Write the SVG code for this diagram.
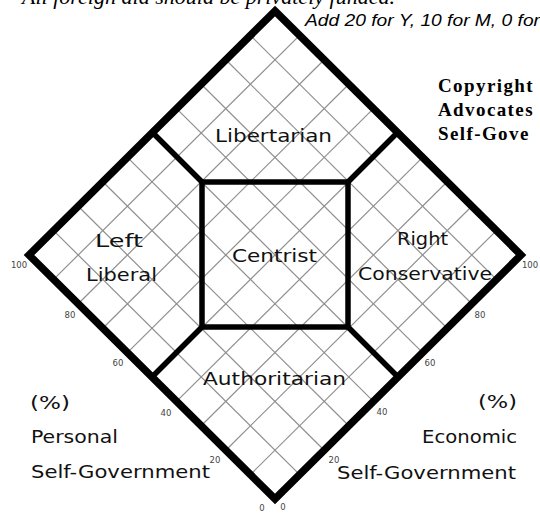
<svg xmlns="http://www.w3.org/2000/svg" width="540" height="519" viewBox="0 0 540 519">
  <style>
    .grid line { stroke: #8f8f8f; stroke-width: 1.2; }
    .frame { fill: none; stroke: #000; stroke-width: 7.5; stroke-linejoin: miter; }
    .inner { fill: none; stroke: #000; stroke-width: 5.5; stroke-linejoin: miter; }
    .lbl { font-family: "DejaVu Sans", "Open Sans", sans-serif; font-size: 18.5px; fill: #111; }
    .num { font-family: "DejaVu Sans", sans-serif; font-size: 8.5px; fill: #444; text-anchor: middle; }
    .copy { font-family: "Liberation Serif", "Times New Roman", serif; font-weight: bold; font-size: 19px; letter-spacing: 1.4px; fill: #000; }
  </style>
  <rect width="540" height="519" fill="#fff"/>

  <g id="header">
    <text x="22" y="4" font-family="Liberation Serif, serif" font-style="italic" font-size="20" textLength="373" lengthAdjust="spacingAndGlyphs">All foreign aid should be privately funded.</text>
    <text x="305" y="26" font-family="Liberation Sans Narrow, Liberation Sans, sans-serif" font-style="italic" font-size="16" textLength="235" lengthAdjust="spacingAndGlyphs">Add 20 for Y, 10 for M, 0 for</text>
  </g>

  <g id="copyright">
    <text class="copy" x="438" y="92">Copyright</text>
    <text class="copy" x="438" y="116">Advocates</text>
    <text class="copy" x="438" y="140">Self-Gove</text>
  </g>

  <g id="grid" class="grid">
    <line x1="53.6" y1="279.4" x2="299.6" y2="35.4"/>
    <line x1="78.2" y1="303.8" x2="324.2" y2="59.8"/>
    <line x1="102.8" y1="328.2" x2="348.8" y2="84.2"/>
    <line x1="127.4" y1="352.6" x2="373.4" y2="108.6"/>
    <line x1="152" y1="377" x2="398" y2="133"/>
    <line x1="176.6" y1="401.4" x2="422.6" y2="157.4"/>
    <line x1="201.2" y1="425.8" x2="447.2" y2="181.8"/>
    <line x1="225.8" y1="450.2" x2="471.8" y2="206.2"/>
    <line x1="250.4" y1="474.6" x2="496.4" y2="230.6"/>
    <line x1="53.6" y1="230.6" x2="299.6" y2="474.6"/>
    <line x1="78.2" y1="206.2" x2="324.2" y2="450.2"/>
    <line x1="102.8" y1="181.8" x2="348.8" y2="425.8"/>
    <line x1="127.4" y1="157.4" x2="373.4" y2="401.4"/>
    <line x1="152" y1="133" x2="398" y2="377"/>
    <line x1="176.6" y1="108.6" x2="422.6" y2="352.6"/>
    <line x1="201.2" y1="84.2" x2="447.2" y2="328.2"/>
    <line x1="225.8" y1="59.8" x2="471.8" y2="303.8"/>
    <line x1="250.4" y1="35.4" x2="496.4" y2="279.4"/>
  </g>

  <g id="frame">
    <polygon class="frame" points="275,11 521,255 275,499 29,255"/>
  </g>

  <g id="connectors">
    <line class="inner" x1="202" y1="182" x2="152" y2="132"/>
    <line class="inner" x1="348" y1="182" x2="398" y2="132"/>
    <line class="inner" x1="202" y1="327" x2="151" y2="378"/>
    <line class="inner" x1="348" y1="327" x2="399" y2="378"/>
  </g>

  <g id="centrist">
    <rect class="inner" x="202" y="182" width="146" height="145"/>
    <text class="lbl" x="232" y="262" textLength="85" lengthAdjust="spacingAndGlyphs">Centrist</text>
  </g>
  <g id="libertarian">
    <text class="lbl" x="215" y="142" textLength="117" lengthAdjust="spacingAndGlyphs">Libertarian</text>
  </g>
  <g id="left-liberal">
    <text class="lbl" x="95" y="247" textLength="48" lengthAdjust="spacingAndGlyphs">Left</text>
    <text class="lbl" x="86" y="281" textLength="71" lengthAdjust="spacingAndGlyphs">Liberal</text>
  </g>
  <g id="right-conservative">
    <text class="lbl" x="397" y="245" textLength="51" lengthAdjust="spacingAndGlyphs">Right</text>
    <text class="lbl" x="358" y="280" textLength="134" lengthAdjust="spacingAndGlyphs">Conservative</text>
  </g>
  <g id="authoritarian">
    <text class="lbl" x="203" y="385" textLength="143" lengthAdjust="spacingAndGlyphs">Authoritarian</text>
  </g>

  <g id="personal-axis">
    <text class="lbl" x="30" y="409" textLength="40" lengthAdjust="spacingAndGlyphs">(%)</text>
    <text class="lbl" x="31" y="443" textLength="87" lengthAdjust="spacingAndGlyphs">Personal</text>
    <text class="lbl" x="31" y="478" textLength="179" lengthAdjust="spacingAndGlyphs">Self-Government</text>
    <text class="num" x="19" y="268">100</text>
    <text class="num" x="70" y="318">80</text>
    <text class="num" x="118" y="366">60</text>
    <text class="num" x="166" y="416">40</text>
    <text class="num" x="215" y="463">20</text>
    <text class="num" x="262" y="511">0</text>
  </g>

  <g id="economic-axis">
    <text class="lbl" x="478" y="408" textLength="39" lengthAdjust="spacingAndGlyphs">(%)</text>
    <text class="lbl" x="422" y="443" textLength="95" lengthAdjust="spacingAndGlyphs">Economic</text>
    <text class="lbl" x="337" y="479" textLength="179" lengthAdjust="spacingAndGlyphs">Self-Government</text>
    <text class="num" x="283" y="510">0</text>
    <text class="num" x="334" y="463">20</text>
    <text class="num" x="382" y="415">40</text>
    <text class="num" x="430" y="366">60</text>
    <text class="num" x="480" y="318">80</text>
    <text class="num" x="530" y="268">100</text>
  </g>
</svg>
